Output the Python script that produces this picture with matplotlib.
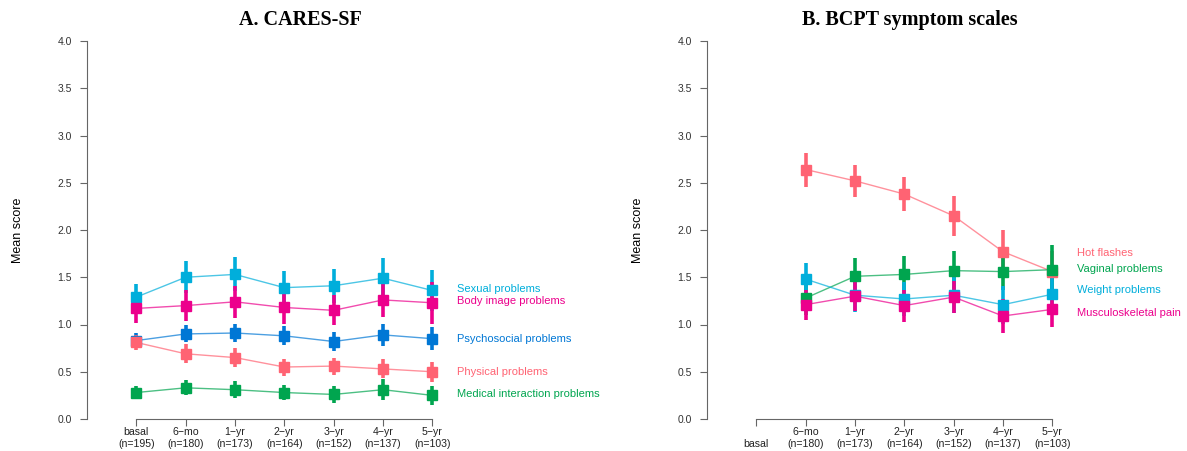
import matplotlib
matplotlib.use("Agg")
import matplotlib.pyplot as plt

plt.rcParams["font.family"] = ["Liberation Sans", "DejaVu Sans"]

# data
timepoints = ["basal", "6\u2212mo", "1\u2212yr", "2\u2212yr", "3\u2212yr", "4\u2212yr", "5\u2212yr"]
n_a = [195, 180, 173, 164, 152, 137, 103]
n_b = [None, 180, 173, 164, 152, 137, 103]

# A. CARES-SF  (mean, half width of CI)
sexual = [1.29, 1.50, 1.53, 1.39, 1.41, 1.49, 1.36]
sexual_ci = [0.14, 0.17, 0.18, 0.18, 0.18, 0.21, 0.22]
body = [1.17, 1.20, 1.24, 1.18, 1.15, 1.26, 1.23]
body_ci = [0.15, 0.16, 0.17, 0.17, 0.16, 0.18, 0.22]
psycho = [0.83, 0.90, 0.91, 0.88, 0.82, 0.89, 0.85]
psycho_ci = [0.08, 0.09, 0.10, 0.10, 0.10, 0.12, 0.12]
physical = [0.81, 0.69, 0.65, 0.55, 0.56, 0.53, 0.50]
physical_ci = [0.08, 0.10, 0.10, 0.09, 0.09, 0.10, 0.105]
medical = [0.28, 0.33, 0.31, 0.28, 0.26, 0.31, 0.25]
medical_ci = [0.07, 0.08, 0.09, 0.08, 0.09, 0.11, 0.10]

# B. BCPT symptom scales (no basal)
hot = [None, 2.64, 2.52, 2.38, 2.15, 1.77, 1.56]
hot_ci = [None, 0.18, 0.17, 0.18, 0.21, 0.23, 0.22]
vaginal = [None, 1.28, 1.51, 1.53, 1.57, 1.56, 1.58]
vaginal_ci = [None, 0.18, 0.19, 0.20, 0.21, 0.20, 0.26]
weight = [None, 1.48, 1.31, 1.27, 1.31, 1.21, 1.32]
weight_ci = [None, 0.17, 0.18, 0.18, 0.19, 0.20, 0.22]
musculo = [None, 1.21, 1.30, 1.20, 1.29, 1.09, 1.16]
musculo_ci = [None, 0.16, 0.16, 0.17, 0.17, 0.18, 0.19]

SALMON = "#ff6373"
MAGENTA = "#ec008c"
CYAN = "#00aedb"
BLUE = "#0077d5"
GREEN = "#00a54f"

series_a = [
    ("Sexual problems", sexual, sexual_ci, CYAN, 0.02),
    ("Body image problems", body, body_ci, MAGENTA, 0.02),
    ("Psychosocial problems", psycho, psycho_ci, BLUE, 0.0),
    ("Physical problems", physical, physical_ci, SALMON, 0.0),
    ("Medical interaction problems", medical, medical_ci, GREEN, 0.01),
]
series_b = [
    ("Hot flashes", hot, hot_ci, SALMON, 0.20),
    ("Vaginal problems", vaginal, vaginal_ci, GREEN, 0.01),
    ("Weight problems", weight, weight_ci, CYAN, 0.05),
    ("Musculoskeletal pain", musculo, musculo_ci, MAGENTA, -0.04),
]

W, H = 1187, 451
fig = plt.figure(figsize=(W / 100, H / 100), dpi=100)


def panel(left_px, title, title_x, series, nvals):
    ax = fig.add_axes([left_px / W, (H - 419) / H, 370 / W, 378 / H])
    ax.set_xlim(-1, 6.5)
    ax.set_ylim(0, 4)
    for name, vals, ci, col, dy in series:
        xs = [i for i, v in enumerate(vals) if v is not None]
        ys = [vals[i] for i in xs]
        es = [ci[i] for i in xs]
        ax.plot(xs, ys, color=col, lw=1.0, alpha=0.7, zorder=2)
        ax.errorbar(xs, ys, yerr=es, fmt="none", ecolor=col, elinewidth=2.6,
                    capsize=0, zorder=3)
        ax.plot(xs, ys, ls="none", marker="s", ms=6.8, mfc=col, mec=col,
                zorder=4)
        ax.text(6.5, ys[-1] + dy, name, color=col, fontsize=8, va="center",
                ha="left", clip_on=False)
    for s in ["top", "right"]:
        ax.spines[s].set_visible(False)
    ax.spines["left"].set_color("#666666")
    ax.spines["bottom"].set_color("#666666")
    ax.spines["bottom"].set_bounds(0, 6)
    ax.set_yticks([0, 0.5, 1, 1.5, 2, 2.5, 3, 3.5, 4])
    ax.set_yticklabels(["0.0", "0.5", "1.0", "1.5", "2.0", "2.5", "3.0", "3.5", "4.0"])
    ax.set_xticks(range(7))
    labels = []
    for t, n in zip(timepoints, nvals):
        if n is None:
            labels.append("\n" + t)
        else:
            labels.append(t + "\n(n=%d)" % n)
    ax.set_xticklabels(labels, fontsize=7.6, linespacing=1.15)
    ax.tick_params(axis="y", labelsize=7.5, length=5, color="#666666",
                   colors="#333333", pad=6)
    ax.tick_params(axis="x", length=5, color="#666666", colors="#222222", pad=1)
    ax.set_ylabel("Mean score", fontsize=9, labelpad=24)
    fig.text(title_x / W, 1 - 20 / H, title, ha="center", va="center",
             fontsize=14.5, fontweight="bold", family="Liberation Serif")
    return ax


panel(87, "A. CARES-SF", 300, series_a, n_a)
panel(707, "B. BCPT symptom scales", 910, series_b, n_b)

fig.savefig("out.png", dpi=100)
